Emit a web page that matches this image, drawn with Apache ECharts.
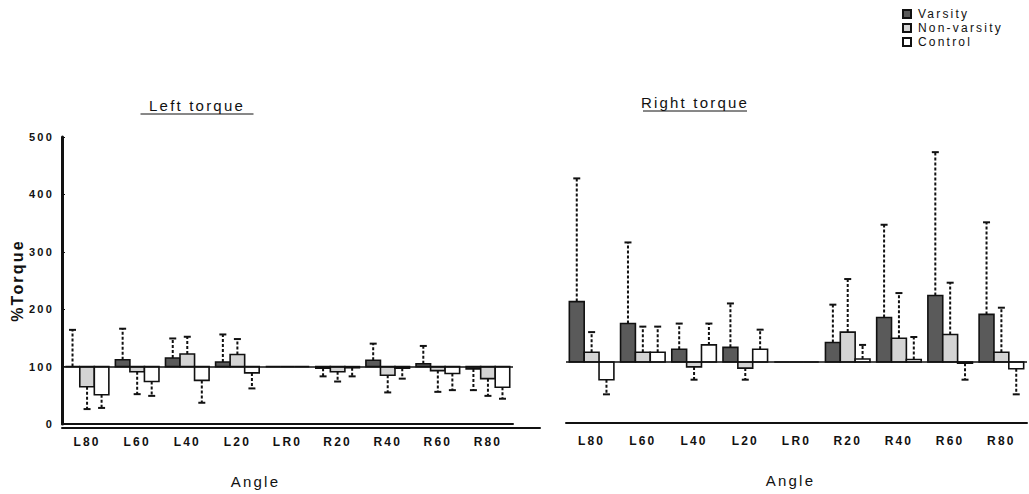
<!DOCTYPE html>
<html>
<head>
<meta charset="utf-8">
<script src="https://cdn.jsdelivr.net/npm/echarts@6/dist/echarts.min.js"></script>
<style>
    html, body {margin: 0; padding: 0; background: #fff;}
    #chart {width: 1029px; height: 494px;}
    /* the scanned figure uses widely spaced lettering */
    #chart svg text {letter-spacing: 2.2px;}
</style>
</head>
<body>
<div id="chart"></div>
<script>
'use strict';

const categories = ['L80', 'L60', 'L40', 'L20', 'LR0', 'R20', 'R40', 'R60', 'R80'];
const groups = ['Varsity', 'Non-varsity', 'Control'];

// %Torque means and SD, left torque panel
const leftVarsity = [100, 112, 115, 108, 100, 97, 111, 105, 96];
const leftVarsitySD = [64, 54, 34, 48, 0, 14, 29, 31, 37];
const leftNonVarsity = [65, 91, 122, 121, 100, 91, 85, 93, 79];
const leftNonVarsitySD = [39, 39, 30, 27, 0, 17, 30, 37, 30];
const leftControl = [51, 74, 76, 89, 100, 98, 97, 88, 64];
const leftControlSD = [23, 25, 39, 27, 0, 15, 18, 29, 20];

// right torque panel
const rightVarsity = [199, 163, 121, 124, 100, 132, 173, 209, 178];
const rightVarsitySD = [202, 133, 42, 72, 0, 62, 152, 235, 151];
const rightNonVarsity = [116, 116, 92, 90, 100, 149, 139, 145, 116];
const rightNonVarsitySD = [33, 42, 21, 19, 0, 87, 74, 85, 73];
const rightControl = [71, 116, 128, 121, 100, 105, 104, 98, 89];
const rightControlSD = [24, 42, 35, 32, 0, 23, 37, 27, 42];

const yTicks = [0, 100, 200, 300, 400, 500];
const baseline = 100;

const fills = ['#5a5a5a', '#d4d4d4', '#ffffff'];
const font = 'Liberation Sans, Arial, sans-serif';

const chart = echarts.init(document.getElementById('chart'), null, {renderer: 'svg'});

const rows = (vals, sds) => vals.map((v, i) => [i, v, sds[i]]);

// bars hang from the 100% line, error bars point away from it
const makeRender = (g) => (params, api) => {
    const i = api.value(0);
    const v = api.value(1);
    const sd = api.value(2);
    const band = api.size([1, 0])[0];
    const bw = band * 0.29;
    const base = api.coord([i, baseline]);
    const cx = base[0] + (g - 1) * bw;
    const yVal = api.coord([i, v])[1];
    const dir = v >= baseline ? 1 : -1;
    const yErr = api.coord([i, v + dir * sd])[1];
    const children = [{
        type: 'rect',
        shape: {x: cx - bw / 2, y: Math.min(base[1], yVal), width: bw, height: Math.abs(yVal - base[1])},
        style: {fill: fills[g], stroke: '#111', lineWidth: 1.6}
    }];
    if (sd > 0) {
        children.push({
            type: 'line',
            shape: {x1: cx, y1: yVal, x2: cx, y2: yErr},
            style: {stroke: '#111', lineWidth: 2, lineDash: [3, 2]}
        }, {
            type: 'line',
            shape: {x1: cx - 3.5, y1: yErr, x2: cx + 3.5, y2: yErr},
            style: {stroke: '#111', lineWidth: 2}
        });
    }
    return {type: 'group', children};
};

const panelSeries = (gridIdx, sets) => sets.map((s, g) => ({
    name: groups[g],
    type: 'custom',
    xAxisIndex: gridIdx,
    yAxisIndex: gridIdx,
    renderItem: makeRender(g),
    encode: {x: 0, y: 1},
    itemStyle: {color: fills[g], borderColor: '#111', borderWidth: 1},
    data: rows(s[0], s[1]),
    markLine: g === 0 ? {
        silent: true,
        symbol: 'none',
        label: {show: false},
        lineStyle: {color: '#111', width: 1.5, type: 'solid'},
        data: [{yAxis: baseline}]
    } : undefined
}));

const xAxisBase = (gridIdx, shift) => ({
    type: 'category',
    gridIndex: gridIdx,
    data: categories,
    axisLine: {lineStyle: {color: '#111', width: 2}},
    axisTick: {show: false},
    axisLabel: {margin: 12, fontFamily: font, fontWeight: 'bold', fontSize: 12, color: '#111'},
    name: 'Angle',
    nameLocation: 'middle',
    nameGap: 50,
    nameTextStyle: {fontFamily: font, fontSize: 15, color: '#111', padding: [0, shift, 0, 0]}
});

const underlinedTitle = (text, cx, cy, w) => ({
    type: 'group',
    children: [{
        type: 'text',
        x: cx, y: cy,
        style: {text, fontFamily: font, fontSize: 15, fill: '#111', align: 'center', verticalAlign: 'middle'}
    }, {
        type: 'line',
        shape: {x1: cx - w / 2, y1: cy + 9, x2: cx + w / 2, y2: cy + 9},
        style: {stroke: '#111', lineWidth: 1}
    }]
});

chart.setOption({
    animation: false,
    backgroundColor: '#fff',
    legend: {
        data: groups,
        orient: 'vertical',
        left: 902,
        top: 8,
        padding: 0,
        itemWidth: 8,
        itemHeight: 8,
        itemGap: 2,
        icon: 'rect',
        textStyle: {fontFamily: font, fontSize: 12, color: '#111', padding: [0, 0, 0, 2]}
    },
    graphic: [
        underlinedTitle('Left torque', 197, 105, 113),
        underlinedTitle('Right torque', 695, 102, 104)
    ],
    grid: [
        {left: 62, top: 137, width: 451, bottom: 66},
        {left: 566, top: 118, width: 461, bottom: 71},
        // only carries the long bottom rule of the left panel
        {left: 62, top: 137, width: 478, bottom: 66}
    ],
    xAxis: [
        xAxisBase(0, 64),
        xAxisBase(1, 12),
        {type: 'value', gridIndex: 2, min: 0, max: 1, axisLine: {show: true, onZero: false, lineStyle: {color: '#111', width: 2}},
            axisTick: {show: false}, axisLabel: {show: false}, splitLine: {show: false}}
    ],
    yAxis: [{
        type: 'value',
        gridIndex: 0,
        min: yTicks[0],
        max: yTicks[yTicks.length - 1],
        interval: 100,
        axisLine: {show: true, lineStyle: {color: '#111', width: 3}},
        axisTick: {show: true, inside: true, length: 3, lineStyle: {color: '#111'}},
        splitLine: {show: false},
        axisLabel: {margin: 8, fontFamily: font, fontWeight: 'bold', fontSize: 11, color: '#111'},
        name: '%Torque',
        nameLocation: 'middle',
        nameRotate: 90,
        nameGap: 37,
        nameTextStyle: {fontFamily: font, fontWeight: 'bold', fontSize: 16, color: '#111'}
    }, {
        type: 'value',
        gridIndex: 1,
        min: yTicks[0],
        max: yTicks[yTicks.length - 1],
        interval: 100,
        show: false
    }, {
        type: 'value',
        gridIndex: 2,
        min: 0,
        max: 1,
        axisLine: {show: false},
        axisLabel: {show: false},
        axisTick: {show: false},
        splitLine: {show: false}
    }],
    series: [
        ...panelSeries(0, [[leftVarsity, leftVarsitySD], [leftNonVarsity, leftNonVarsitySD], [leftControl, leftControlSD]]),
        ...panelSeries(1, [[rightVarsity, rightVarsitySD], [rightNonVarsity, rightNonVarsitySD], [rightControl, rightControlSD]]),
        // empty series so the rule grid gets drawn
        {type: 'line', xAxisIndex: 2, yAxisIndex: 2, data: [], silent: true}
    ]
});
</script>
</body>
</html>
